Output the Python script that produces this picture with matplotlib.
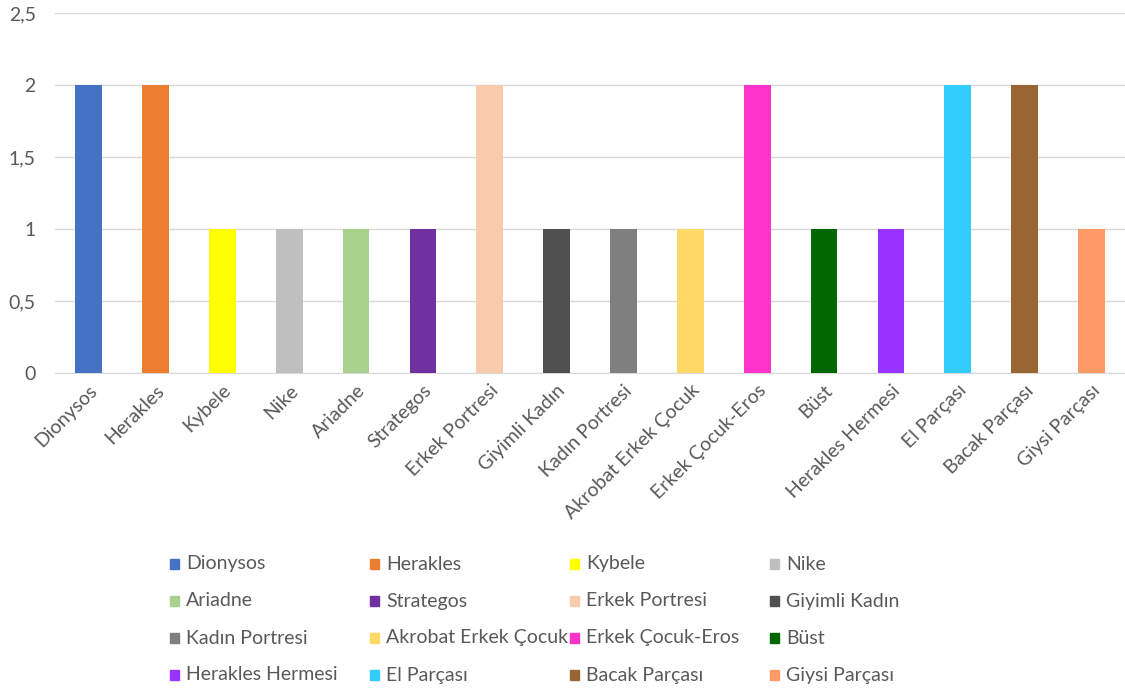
import matplotlib
matplotlib.use("Agg")
import matplotlib.pyplot as plt
from matplotlib.patches import Rectangle
from matplotlib.ticker import FuncFormatter

plt.rcParams['font.family'] = ['Lato', 'DejaVu Sans']

categories = ["Dionysos", "Herakles", "Kybele", "Nike", "Ariadne", "Strategos",
              "Erkek Portresi", "Giyimli Kadın", "Kadın Portresi",
              "Akrobat Erkek Çocuk", "Erkek Çocuk-Eros", "Büst",
              "Herakles Hermesi", "El Parçası", "Bacak Parçası", "Giysi Parçası"]
counts = [2, 2, 1, 1, 1, 1, 2, 1, 1, 1, 2, 1, 1, 2, 2, 1]
colors = ["#4472C4", "#ED7D31", "#FFFF00", "#BFBFBF", "#A9D18E", "#7030A0",
          "#F8CBAD", "#505050", "#7F7F7F", "#FFD966", "#FF33CC", "#006600",
          "#9933FF", "#33CCFF", "#996633", "#FF9966"]
yticks = [0, 0.5, 1, 1.5, 2, 2.5]

TXT = '#595959'

fig = plt.figure(figsize=(11.25, 6.9), dpi=100)
ax = fig.add_axes([0.049, 0.459, 0.951, 0.522])

x = range(len(categories))
ax.bar(x, counts, width=0.4, color=colors, zorder=3)

ax.set_xlim(-0.5, len(categories) - 0.5)
ax.set_ylim(0, 2.5)
ax.set_yticks(yticks)
ax.yaxis.set_major_formatter(FuncFormatter(lambda v, p: f"{v:g}".replace(".", ",")))
ax.grid(axis='y', color='#D9D9D9', linewidth=1, zorder=0)
for s in ['top', 'right', 'left']:
    ax.spines[s].set_visible(False)
ax.spines['bottom'].set_color('#D9D9D9')
ax.tick_params(axis='both', length=0, labelsize=14, colors=TXT)
ax.tick_params(axis='y', pad=14)
ax.tick_params(axis='x', pad=6)
ax.set_xticks(list(x))
ax.set_xticklabels(categories, rotation=45, ha='right', rotation_mode='anchor')

# legend, 4 columns, filled row by row
for i, (name, c) in enumerate(zip(categories, colors)):
    row, col = divmod(i, 4)
    lx = (170 + col * 200) / 1125
    ly = 1 - (564 + row * 37) / 690
    fig.add_artist(Rectangle((lx, ly - 5 / 690), 9 / 1125, 10 / 690,
                             transform=fig.transFigure, color=c))
    fig.text(lx + 16 / 1125, ly, name, fontsize=14, color=TXT,
             va='center', ha='left')

fig.savefig("out.png", dpi=100, facecolor='white')
